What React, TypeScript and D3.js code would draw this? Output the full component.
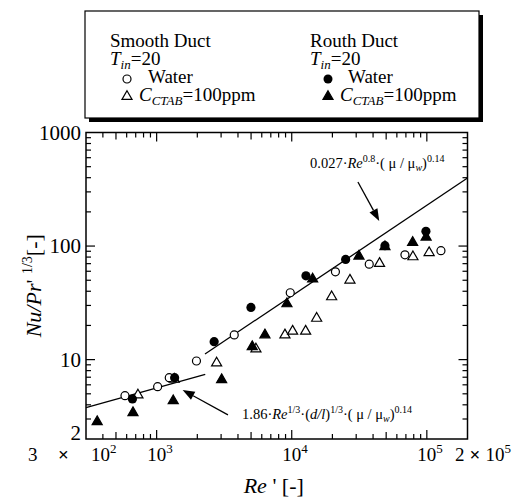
import React from "react";
import * as d3 from "d3";

// [Re', Nu/Pr'^(1/3)]
const smoothWater: [number, number][] = [
  [583, 4.81], [1017, 5.78], [1240, 6.93], [1971, 9.72], [3753, 16.5],
  [9748, 38.8], [21060, 59.3], [37470, 69.3], [68850, 83.7], [127200, 91.1],
];
const roughWater: [number, number][] = [
  [662, 4.5], [1359, 6.93], [2665, 14.4], [4989, 28.8], [12740, 54.7],
  [25060, 76.2], [48970, 100.8], [98470, 135],
];
const smoothCtab: [number, number][] = [
  [727, 4.88], [1350, 6.72], [2780, 9.33], [5433, 12.4], [8906, 16.5],
  [10150, 17.8], [12670, 17.8], [15290, 23.1], [19740, 35.7], [26970, 50.1],
  [44660, 70.3], [78890, 80.4], [104000, 87.5],
];
const roughCtab: [number, number][] = [
  [363, 2.84], [668, 3.41], [1327, 4.34], [3028, 6.66], [5100, 13.0],
  [6332, 16.5], [9215, 31.0], [14280, 51.2], [31440, 81.5], [48970, 98.8],
  [78500, 107.6], [98800, 119.8],
];

// correlation lines (end points)
const turbulentLine: [number, number][] = [[2280, 11.2], [2e5, 397]];
const laminarLine: [number, number][] = [[300, 3.77], [2290, 7.41]];

// annotation arrows: tail, tip
const turbArrow: [number, number][] = [[30900, 367], [44430, 166.5]];
const lamArrow: [number, number][] = [[3372, 3.26], [1557, 5.4]];

const xTickValues = [300, 1e3, 1e4, 1e5, 2e5];
const xTickMult = ["3", "", "", "", "2"];
const xTickExp = ["2", "3", "4", "5", "5"];
const yTickValues = [2, 10, 100, 1000];
const yTickLabels = ["2", "10", "100", "1000"];

const W = 520;
const H = 499;
const FONT = '"Liberation Serif", "Times New Roman", Times, serif';

const x = d3.scaleLog().domain([300, 2e5]).range([86, 467.5]);
const y = d3.scaleLog().domain([2, 1000]).range([439, 132.5]);
const [x0, x1] = x.range();
const [y0, y1] = y.range();

const minorValues = (lo: number, hi: number) => {
  const out: { v: number; m: number }[] = [];
  for (let e = 0; e <= 5; e++) {
    for (let m = 1; m <= 9; m++) {
      const v = m * Math.pow(10, e);
      if (v > lo * 1.0001 && v < hi * 0.9999) out.push({ v, m });
    }
  }
  return out;
};

const line = d3
  .line<[number, number]>()
  .x((d) => x(d[0]))
  .y((d) => y(d[1]));

const triPath = d3.symbol(d3.symbolTriangle, 44)()!;

const Arrow = ({ pts }: { pts: [number, number][] }) => {
  const [tx, ty] = [x(pts[0][0]), y(pts[0][1])];
  const [hx, hy] = [x(pts[1][0]), y(pts[1][1])];
  const a = Math.atan2(hy - ty, hx - tx);
  const L = 12;
  const w = 4.5;
  const bx = hx - L * Math.cos(a);
  const by = hy - L * Math.sin(a);
  const p1 = [bx + w * Math.sin(a), by - w * Math.cos(a)];
  const p2 = [bx - w * Math.sin(a), by + w * Math.cos(a)];
  return (
    <g>
      <line x1={tx} y1={ty} x2={bx} y2={by} stroke="#000" strokeWidth={1.3} />
      <polygon points={`${hx},${hy} ${p1.join(",")} ${p2.join(",")}`} fill="#000" />
    </g>
  );
};

// "10" with exponent, optional "m ×" prefix; base "10" starts at bx
const XLabel = ({ bx, mult, exp, multX, timesX }: { bx: number; mult: string; exp: string; multX?: number; timesX?: number }) => (
  <g>
    {mult && (
      <>
        <text x={multX} y={461}>{mult}</text>
        <text x={timesX} y={461} fontWeight="bold">×</text>
      </>
    )}
    <text x={bx} y={461}>
      10
      <tspan fontSize={13} dy={-8}>{exp}</tspan>
    </text>
  </g>
);

export default function App() {
  const xt = minorValues(300, 2e5);
  const yt = minorValues(2, 1000);
  return (
    <svg
      width={W}
      height={H}
      style={{ position: "absolute", left: 0, top: 0, background: "#fff", fontFamily: FONT }}
    >
      {/* legend */}
      <rect x={89} y={15} width={394} height={107} fill="#000" />
      <rect x={85} y={11} width={394} height={107} fill="#fff" stroke="#000" strokeWidth={1.2} />
      <g fontSize={19}>
        <text x={110} y={47}>Smooth Duct</text>
        <text x={110} y={65}>
          <tspan fontStyle="italic">T</tspan>
          <tspan fontStyle="italic" fontSize={13} dy={4}>in</tspan>
          <tspan dy={-4}>=20</tspan>
        </text>
        <circle cx={127} cy={79} r={4} fill="#fff" stroke="#000" strokeWidth={1.2} />
        <text x={148} y={83}>Water</text>
        <path d={triPath} transform="translate(127,96.5)" fill="#fff" stroke="#000" strokeWidth={1.2} />
        <text x={139} y={101}>
          <tspan fontStyle="italic">C</tspan>
          <tspan fontStyle="italic" fontSize={13} dy={4}>CTAB</tspan>
          <tspan dy={-4}>=100ppm</tspan>
        </text>

        <text x={310} y={47}>Routh Duct</text>
        <text x={310} y={65}>
          <tspan fontStyle="italic">T</tspan>
          <tspan fontStyle="italic" fontSize={13} dy={4}>in</tspan>
          <tspan dy={-4}>=20</tspan>
        </text>
        <circle cx={328} cy={79} r={4.5} fill="#000" />
        <text x={348} y={83}>Water</text>
        <path d={triPath} transform="translate(328,96.5)" fill="#000" stroke="#000" strokeWidth={1.2} />
        <text x={340} y={101}>
          <tspan fontStyle="italic">C</tspan>
          <tspan fontStyle="italic" fontSize={13} dy={4}>CTAB</tspan>
          <tspan dy={-4}>=100ppm</tspan>
        </text>
      </g>

      {/* frame + ticks */}
      <rect x={x0} y={y1} width={x1 - x0} height={y0 - y1} fill="none" stroke="#000" strokeWidth={1.5} />
      {xt.map(({ v, m }, i) => {
        const len = m === 1 ? 9 : m === 5 ? 7 : 5;
        return (
          <g key={"xt" + i} stroke="#000" strokeWidth={1.2}>
            <line x1={x(v)} x2={x(v)} y1={y0} y2={y0 - len} />
            <line x1={x(v)} x2={x(v)} y1={y1} y2={y1 + len} />
          </g>
        );
      })}
      {yt.map(({ v, m }, i) => {
        const len = m === 1 ? 9 : 5;
        return (
          <g key={"yt" + i} stroke="#000" strokeWidth={1.2}>
            <line x1={x0} x2={x0 + len} y1={y(v)} y2={y(v)} />
            <line x1={x1} x2={x1 - len} y1={y(v)} y2={y(v)} />
          </g>
        );
      })}

      {/* tick labels */}
      <g fontSize={21}>
        {yTickValues.map((v, i) => (
          <text
            key={"yl" + i}
            x={81}
            y={y(v) + (i === 0 ? -6 : 0)}
            textAnchor="end"
            dominantBaseline="central"
          >
            {yTickLabels[i]}
          </text>
        ))}
      </g>
      <g fontSize={19}>
        {xTickValues.map((v, i) => {
          const px = x(v);
          if (i === 0)
            return <XLabel key={"xl" + i} bx={px + 5} mult={xTickMult[i]} exp={xTickExp[i]} multX={px - 58} timesX={px - 28} />;
          if (i === xTickValues.length - 1)
            return <XLabel key={"xl" + i} bx={px + 18} mult={xTickMult[i]} exp={xTickExp[i]} multX={px - 12.5} timesX={px + 2} />;
          return <XLabel key={"xl" + i} bx={px - 9.5} mult="" exp={xTickExp[i]} />;
        })}
      </g>

      {/* axis titles */}
      <text x={(x0 + x1) / 2 - 3} y={493} fontSize={22} textAnchor="middle">
        <tspan fontStyle="italic">Re</tspan> ' [-]
      </text>
      <text transform={`translate(41,${(y0 + y1) / 2}) rotate(-90)`} fontSize={22} textAnchor="middle">
        <tspan fontStyle="italic">Nu/Pr</tspan>{"' "}
        <tspan fontSize={14} dy={-9}>1/3</tspan>
        <tspan dy={9}>[-]</tspan>
      </text>

      {/* correlation lines */}
      <path d={line(turbulentLine)!} fill="none" stroke="#000" strokeWidth={1.3} />
      <path d={line(laminarLine)!} fill="none" stroke="#000" strokeWidth={1.3} />

      {/* data */}
      {smoothCtab.map((d, i) => (
        <path key={"sc" + i} d={triPath} transform={`translate(${x(d[0])},${y(d[1])})`} fill="#fff" stroke="#000" strokeWidth={1.2} />
      ))}
      {smoothWater.map((d, i) => (
        <circle key={"sw" + i} cx={x(d[0])} cy={y(d[1])} r={4} fill="#fff" stroke="#000" strokeWidth={1.2} />
      ))}
      {roughWater.map((d, i) => (
        <circle key={"rw" + i} cx={x(d[0])} cy={y(d[1])} r={4.6} fill="#000" />
      ))}
      {roughCtab.map((d, i) => (
        <path key={"rc" + i} d={triPath} transform={`translate(${x(d[0])},${y(d[1])})`} fill="#000" stroke="#000" strokeWidth={1.2} />
      ))}

      {/* annotations */}
      <Arrow pts={turbArrow} />
      <Arrow pts={lamArrow} />
      <text x={310} y={168} fontSize={14.5}>
        0.027·<tspan fontStyle="italic">Re</tspan>
        <tspan fontSize={10} dy={-6}>0.8</tspan>
        <tspan dy={6}>·( μ / μ</tspan>
        <tspan fontSize={10} dy={3} fontStyle="italic">w</tspan>
        <tspan dy={-3}>)</tspan>
        <tspan fontSize={10} dy={-6}>0.14</tspan>
      </text>
      <text x={242} y={419} fontSize={14.5}>
        1.86·<tspan fontStyle="italic">Re</tspan>
        <tspan fontSize={10} dy={-6}>1/3</tspan>
        <tspan dy={6}>·(</tspan>
        <tspan fontStyle="italic">d/l</tspan>
        <tspan>)</tspan>
        <tspan fontSize={10} dy={-6}>1/3</tspan>
        <tspan dy={6}>·( μ / μ</tspan>
        <tspan fontSize={10} dy={3} fontStyle="italic">w</tspan>
        <tspan dy={-3}>)</tspan>
        <tspan fontSize={10} dy={-6}>0.14</tspan>
      </text>
    </svg>
  );
}
